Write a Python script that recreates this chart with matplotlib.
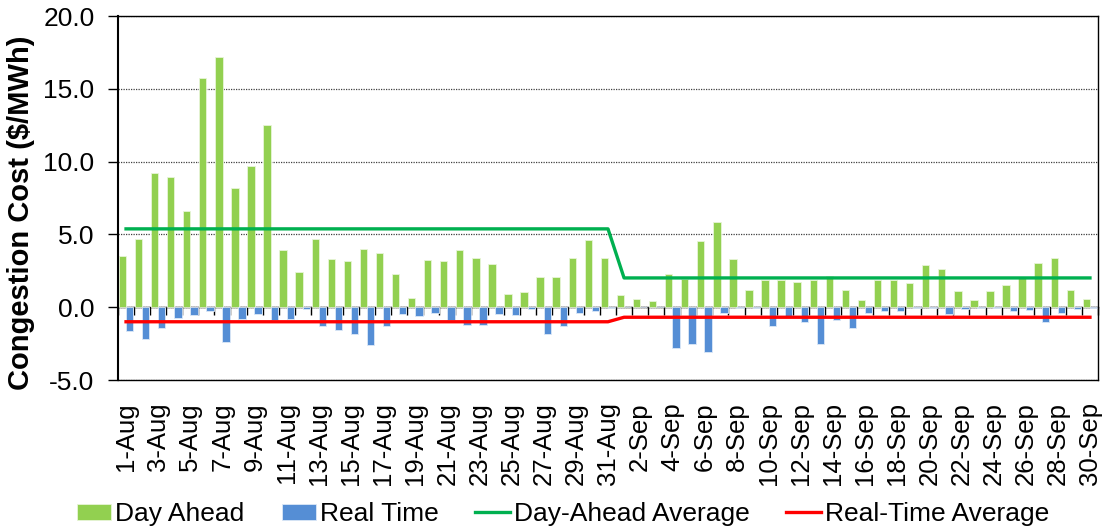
import matplotlib.pyplot as plt
import numpy as np

plt.rcParams['font.family'] = ['Liberation Sans', 'DejaVu Sans']

# categories
days = [f'{d}-Aug' for d in range(1, 32)] + [f'{d}-Sep' for d in range(1, 31)]

# daily congestion cost ($/MWh)
day_ahead = [3.5, 4.71, 9.24, 8.92, 6.64, 15.72, 17.16, 8.19, 9.68, 12.49,
             3.91, 2.43, 4.67, 3.32, 3.16, 4.03, 3.75, 2.29, 0.65, 3.25,
             3.16, 3.96, 3.39, 2.95, 0.92, 1.05, 2.04, 2.06, 3.39, 4.6, 3.39,
             0.82, 0.53, 0.46, 2.31, 1.97, 4.58, 5.84, 3.3, 1.17, 1.9,
             1.9, 1.74, 1.9, 2.15, 1.17, 0.5, 1.85, 1.9, 1.65, 2.88,
             2.61, 1.08, 0.5, 1.08, 1.51, 2.08, 3.02, 3.41, 1.17, 0.55]
real_time = [-1.65, -2.15, -1.42, -0.73, -0.57, -0.23, -2.38, -0.8, -0.46, -0.89,
             -0.82, -0.09, -1.26, -1.58, -1.85, -2.59, -1.28, -0.5, -0.6, -0.43,
             -0.87, -1.19, -1.19, -0.46, -0.57, -0.11, -1.85, -1.3, -0.41, -0.23, -0.05,
             -0.02, -0.02, -0.02, -2.77, -2.56, -3.07, -0.37, -0.05, -0.03, -1.26,
             -0.6, -1.0, -2.54, -0.87, -1.42, -0.39, -0.23, -0.27, -0.03, -0.03,
             -0.5, -0.14, -0.03, -0.03, -0.27, -0.16, -1.0, -0.39, -0.11, -0.03]

# monthly averages (Aug, Sep)
da_avg = [5.38, 2.01]
rt_avg = [-1.0, -0.69]
month_days = [31, 30]

da_avg_line = np.repeat(da_avg, month_days)
rt_avg_line = np.repeat(rt_avg, month_days)

x = np.arange(len(days))

fig = plt.figure(figsize=(11.05, 5.27), dpi=100)
ax = fig.add_axes([118/1105, 1-380/527, 980/1105, 364/527])

b1 = ax.bar(x - 0.225, day_ahead, width=0.46, color='#92D050', edgecolor='#e8f5d8',
            linewidth=0.6, label='Day Ahead', zorder=2)
b2 = ax.bar(x + 0.225, real_time, width=0.46, color='#558ED5', edgecolor='#dce8f7',
            linewidth=0.6, label='Real Time', zorder=2)
l1, = ax.plot(x, da_avg_line, color='#00B050', lw=2.4, label='Day-Ahead Average', zorder=3)
l2, = ax.plot(x, rt_avg_line, color='#FF0000', lw=2.4, label='Real-Time Average', zorder=3)

ax.set_xlim(-0.5, len(days) - 0.5)
ax.set_ylim(-5, 20)
ax.set_yticks(np.arange(-5, 21, 5))
ax.set_yticklabels([f'{v:.1f}' for v in np.arange(-5, 21, 5)])
ax.yaxis.grid(True, linestyle=(0, (1, 1)), color='#404040', lw=0.9)
ax.set_axisbelow(True)

ax.set_xticks(x[::2])
ax.set_xticklabels(days[::2], rotation=90)
ax.tick_params(axis='x', length=0, pad=16, labelsize=18.5)
ax.tick_params(axis='y', length=7, width=1, pad=10, labelsize=19)

for side in ['left', 'right', 'top', 'bottom']:
    ax.spines[side].set_color('black')
    ax.spines[side].set_linewidth(1.0)
ax.spines['left'].set_linewidth(1.5)

# category axis crossing at zero, ticks between categories
zero_pos = (0 - (-5)) / 25
sec = ax.secondary_xaxis(zero_pos)
sec.set_xticks(np.arange(-0.5, len(days), 1))
sec.tick_params(axis='x', length=6, width=1, direction='out', labelbottom=False, labeltop=False)
sec.spines['bottom'].set_color('black')
sec.spines['bottom'].set_linewidth(1.0)

fig.text(21/1105, 1-213/527, 'Congestion Cost ($/MWh)', rotation=90, ha='center', va='center',
         fontsize=21, fontweight='bold')

fig.legend([b1, b2, l1, l2], ['Day Ahead', 'Real Time', 'Day-Ahead Average', 'Real-Time Average'],
           loc='lower center', bbox_to_anchor=(563/1105, -0.028), ncol=4, frameon=False,
           fontsize=19, handlelength=1.3, handleheight=0.55, handletextpad=0.15,
           columnspacing=1.4, borderaxespad=0.2)

fig.savefig('out.png', dpi=100)
